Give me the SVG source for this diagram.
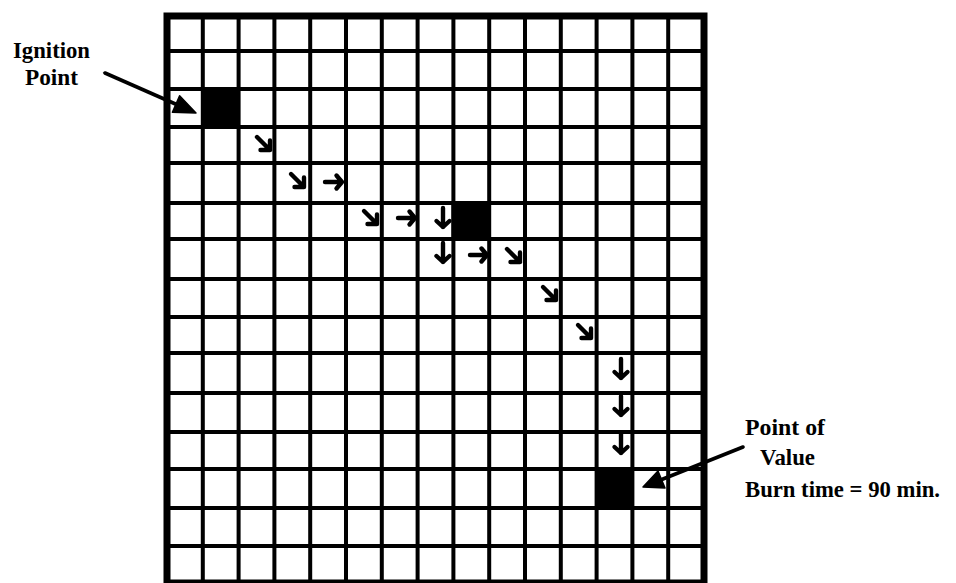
<svg xmlns="http://www.w3.org/2000/svg" width="956" height="583" viewBox="0 0 956 583">
<style>
.grid{fill:none;stroke:#000;stroke-width:4}
.border{fill:none;stroke:#000;stroke-width:7}
.cell{fill:#000}
.mv{fill:none;stroke:#000;stroke-width:4.4;stroke-linecap:round;stroke-linejoin:round}
.lbl{font-family:"Liberation Serif","Times New Roman",serif;font-weight:bold;font-size:24px;fill:#000}
.conn{stroke:#000;stroke-width:3.6;fill:none;stroke-linecap:round}
.head{fill:#000;stroke:#000;stroke-width:1.5;stroke-linejoin:round}
</style>
<defs>
<path id="se" class="mv" d="M-7,-7 L6,6 M6,-3.5 L6,6 L-3.5,6"/>
<path id="e" class="mv" d="M-9,0 L8,0 M2.5,-6.5 L8,0 L2.5,6.5"/>
<path id="s" class="mv" d="M0,-10 L0,9 M-6.5,3 L0,9 L6.5,3"/>
</defs>
<rect width="956" height="583" fill="#fff"/>
<g id="grid">
<path class="grid" d="M202.8,16V583 M238.6,16V583 M274.4,16V583 M310.2,16V583 M346,16V583 M381.8,16V583 M417.6,16V583 M453.4,16V583 M489.2,16V583 M525,16V583 M560.8,16V583 M596.6,16V583 M632.4,16V583 M668.2,16V583 M167,51H704 M167,89H704 M167,127H704 M167,163H704 M167,203H704 M167,239H704 M167,279H704 M167,317H704 M167,353H704 M167,393H704 M167,432H704 M167,469H704 M167,508H704 M167,546H704"/>
<rect class="border" x="167" y="16" width="537" height="567"/>
</g>
<g id="ignition-cell"><rect class="cell" x="201" y="87" width="39" height="42"/></g>
<g id="mid-cell"><rect class="cell" x="451.5" y="201" width="39.5" height="40"/></g>
<g id="value-cell"><rect class="cell" x="595" y="467" width="39" height="43"/></g>
<g id="spread">
<use href="#se" x="264" y="144"/>
<use href="#se" x="298" y="181"/>
<use href="#e" x="334" y="182"/>
<use href="#se" x="371" y="218"/>
<use href="#e" x="407" y="218"/>
<use href="#s" x="443" y="218"/>
<use href="#s" x="443" y="253"/>
<use href="#e" x="479" y="255"/>
<use href="#se" x="514" y="256"/>
<use href="#se" x="550" y="294"/>
<use href="#se" x="585" y="332"/>
<use href="#s" x="621" y="369"/>
<use href="#s" x="621" y="406"/>
<use href="#s" x="621" y="444"/>
</g>
<g id="ignition-label">
<text class="lbl" x="51.5" y="58" text-anchor="middle" textLength="77" lengthAdjust="spacingAndGlyphs">Ignition</text>
<text class="lbl" x="51.5" y="85" text-anchor="middle" textLength="53" lengthAdjust="spacingAndGlyphs">Point</text>
</g>
<g id="value-label">
<text class="lbl" x="745" y="435" textLength="80" lengthAdjust="spacingAndGlyphs">Point of</text>
<text class="lbl" x="760" y="465" textLength="55" lengthAdjust="spacingAndGlyphs">Value</text>
<text class="lbl" x="745" y="497" textLength="195" lengthAdjust="spacingAndGlyphs">Burn time = 90 min.</text>
</g>
<g id="connectors">
<line class="conn" x1="105" y1="73" x2="180" y2="106"/>
<polygon class="head" points="196,113 179.6,95.8 172.4,112.2"/>
<line class="conn" x1="743" y1="447" x2="658" y2="481"/>
<polygon class="head" points="643,487 658,471 665,488"/>
</g>
</svg>
